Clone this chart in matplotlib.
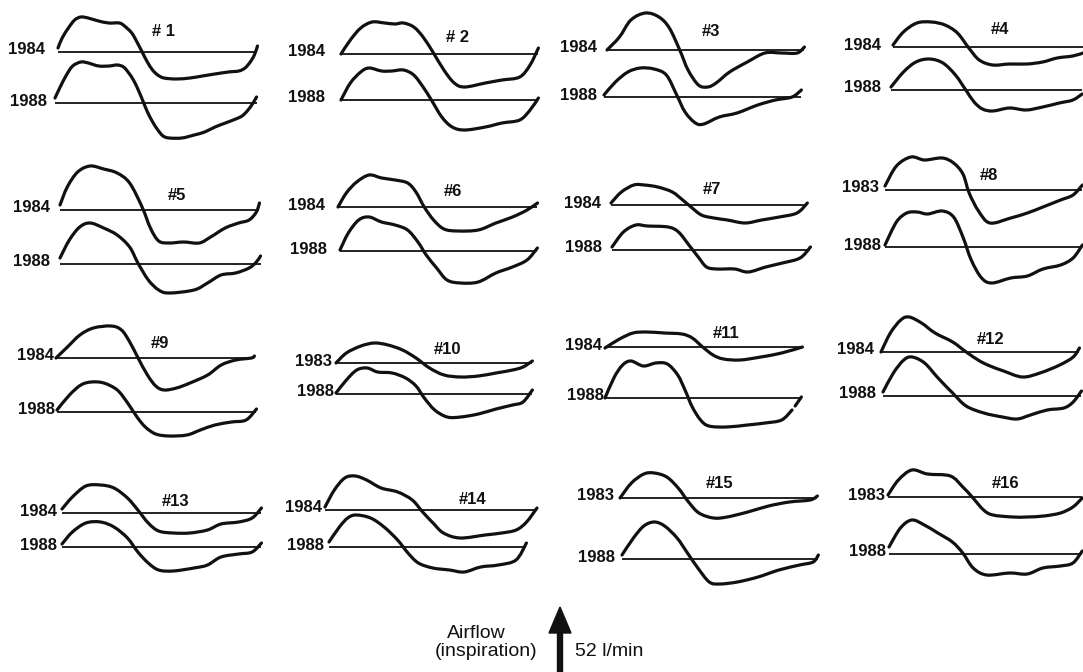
import matplotlib
matplotlib.use("Agg")
import matplotlib.pyplot as plt
from matplotlib.patches import FancyArrow, PathPatch
from matplotlib.path import Path
import numpy as np

W, H = 1083, 672
XSCALE = 1.039   # px per time unit along a breath
INK = "#111111"

# airflow traces
# t = time along the breath (arbitrary units), f = deflection from zero flow (+ = inspiration)
t01_84 = [0, 4, 10, 16, 22, 29, 39, 49, 59, 64, 71, 76, 81, 86, 91, 96, 102, 114, 127, 139, 151, 164, 174, 180, 185, 189, 192]
f01_84 = [4, 14, 24, 32, 35, 34, 31, 29, 29, 26, 19, 10, 0, -10, -18, -23, -26, -27, -26, -24, -22, -20, -19, -16, -10, -3, 6]
t01_88 = [0, 5, 11, 17, 25, 32, 42, 52, 60, 66, 71, 76, 81, 85, 89, 94, 99, 104, 110, 122, 134, 144, 154, 164, 174, 180, 185, 190, 194]
f01_88 = [5, 16, 28, 37, 41, 40, 37, 37, 38, 36, 30, 22, 11, 1, -9, -19, -27, -33, -35, -35, -32, -29, -24, -20, -16, -13, -8, -1, 6]

t02_84 = [0, 9, 19, 30, 42, 52, 60, 70, 79, 89, 99, 109, 119, 139, 155, 172, 182, 190]
f02_84 = [0, 14, 26, 32, 31, 30, 31, 27, 17, 1, -16, -29, -33, -29, -26, -23, -11, 6]
t02_88 = [0, 9, 19, 27, 39, 49, 60, 70, 79, 87, 97, 107, 119, 139, 155, 172, 182, 190]
f02_88 = [0, 17, 28, 32, 29, 29, 30, 25, 13, 0, -17, -27, -30, -27, -23, -20, -10, 2]

t03_84 = [0, 12, 23, 37, 50, 60, 70, 78, 88, 97, 105, 118, 135, 152, 168, 183, 190]
f03_84 = [0, 13, 30, 37, 33, 22, 0, -20, -35, -37, -33, -22, -12, -3, -3, -3, 3]
t03_88 = [0, 11, 23, 35, 48, 60, 70, 78, 88, 96, 111, 128, 148, 165, 181, 190]
f03_88 = [2, 15, 25, 29, 28, 22, 2, -15, -26, -27, -20, -16, -8, -3, 0, 7]

t04_84 = [0, 10, 23, 37, 50, 62, 73, 83, 96, 112, 129, 144, 158, 173, 183]
f04_84 = [2, 15, 24, 25, 22, 14, -1, -13, -18, -17, -17, -15, -11, -9, -6]
t04_88 = [0, 12, 24, 37, 50, 62, 72, 80, 88, 98, 114, 130, 146, 162, 175, 184]
f04_88 = [3, 18, 28, 31, 27, 15, 0, -12, -19, -21, -18, -20, -17, -13, -10, -4]

t05_84 = [0, 7, 17, 29, 42, 55, 67, 79, 87, 95, 105, 119, 134, 145, 159, 172, 182, 189, 192]
f05_84 = [5, 23, 38, 44, 41, 37, 27, 3, -18, -31, -33, -32, -33, -27, -18, -13, -10, -2, 7]
t05_88 = [0, 9, 19, 29, 42, 55, 67, 75, 85, 95, 105, 129, 142, 155, 169, 182, 189, 193]
f05_88 = [6, 24, 37, 41, 36, 29, 17, 1, -16, -26, -29, -26, -19, -11, -9, -4, 2, 8]

t06_84 = [0, 8, 18, 30, 42, 55, 67, 75, 83, 92, 102, 115, 135, 152, 168, 182, 192]
f06_84 = [0, 14, 25, 32, 29, 27, 24, 15, 0, -13, -22, -24, -23, -16, -10, -3, 4]
t06_88 = [0, 8, 18, 28, 40, 53, 65, 75, 83, 93, 103, 116, 133, 150, 166, 180, 190]
f06_88 = [1, 18, 31, 34, 29, 26, 21, 9, -4, -17, -29, -32, -31, -22, -16, -9, 3]

t07_84 = [0, 10, 22, 32, 45, 59, 69, 77, 87, 99, 112, 129, 145, 162, 179, 189]
f07_84 = [2, 13, 20, 20, 18, 13, 5, -2, -10, -13, -15, -18, -15, -12, -8, 2]
t07_88 = [0, 11, 23, 34, 54, 64, 74, 83, 91, 101, 118, 131, 148, 164, 181, 191]
f07_88 = [3, 18, 25, 24, 23, 18, 5, -7, -17, -19, -19, -22, -17, -13, -8, 3]

t08_83 = [0, 11, 25, 38, 55, 66, 75, 81, 90, 101, 121, 137, 152, 169, 181, 190]
f08_83 = [4, 24, 33, 30, 32, 27, 16, -3, -21, -33, -28, -23, -17, -10, -5, 5]
t08_88 = [0, 11, 21, 31, 41, 55, 66, 75, 83, 93, 103, 121, 137, 152, 169, 181, 190]
f08_88 = [2, 25, 34, 35, 33, 36, 30, 10, -13, -31, -36, -31, -29, -22, -18, -11, 2]

t09_84 = [0, 11, 23, 36, 53, 63, 71, 79, 88, 96, 104, 116, 129, 146, 159, 173, 188, 191]
f09_84 = [0, 11, 23, 30, 32, 28, 16, 0, -17, -28, -32, -30, -25, -17, -7, -2, 0, 2]
t09_88 = [0, 12, 23, 33, 45, 58, 68, 77, 85, 95, 108, 125, 138, 152, 168, 182, 192]
f09_88 = [2, 17, 27, 30, 29, 22, 9, -5, -15, -22, -24, -23, -18, -13, -10, -8, 3]

t10_83 = [0, 10, 24, 37, 50, 64, 77, 90, 104, 120, 137, 154, 170, 180, 189]
f10_83 = [0, 10, 17, 20, 18, 13, 5, -5, -12, -14, -13, -10, -7, -4, 2]
t10_88 = [0, 10, 20, 30, 40, 54, 67, 77, 85, 95, 107, 120, 137, 154, 170, 180, 189]
f10_88 = [1, 14, 24, 26, 22, 21, 16, 8, -4, -16, -23, -23, -20, -15, -11, -8, 4]

t11_84 = [0, 14, 27, 40, 57, 74, 84, 94, 104, 114, 130, 150, 170, 190]
f11_84 = [-1, 8, 14, 15, 14, 13, 9, 0, -8, -12, -13, -10, -6, 0]
t11_88 = [0, 9, 17, 25, 37, 49, 60, 70, 77, 84, 92, 100, 117, 137, 154, 170, 180, 181, 183, 189]
f11_88 = [0, 21, 33, 37, 32, 35, 34, 23, 8, -9, -22, -28, -29, -27, -25, -22, -12, np.nan, -8, 1]

t12_84 = [0, 9, 19, 27, 39, 52, 69, 82, 95, 105, 118, 136, 153, 172, 185, 191]
f12_84 = [0, 19, 32, 35, 29, 19, 10, 0, -9, -14, -19, -25, -21, -13, -5, 4]
t12_88 = [0, 10, 20, 28, 40, 53, 67, 80, 97, 115, 129, 142, 158, 174, 183, 191]
f12_88 = [4, 23, 36, 39, 33, 18, 3, -10, -17, -21, -23, -19, -14, -12, -6, 5]

t13_84 = [0, 10, 23, 37, 50, 63, 73, 83, 93, 107, 123, 140, 153, 170, 183, 192]
f13_84 = [4, 16, 27, 28, 25, 15, 3, -10, -18, -20, -20, -17, -11, -9, -5, 5]
t13_88 = [0, 10, 23, 37, 50, 63, 73, 83, 93, 107, 127, 140, 153, 170, 183, 192]
f13_88 = [3, 15, 24, 25, 20, 9, -5, -16, -23, -24, -21, -18, -10, -7, -5, 4]

t14_84 = [0, 9, 19, 29, 40, 54, 70, 84, 94, 104, 114, 130, 154, 170, 184, 194, 204]
f14_84 = [3, 20, 32, 34, 30, 22, 18, 10, -2, -13, -23, -28, -25, -23, -20, -12, 2]
t14_88 = [0, 10, 18, 26, 40, 53, 66, 76, 86, 100, 116, 130, 146, 163, 180, 190]
f14_88 = [5, 20, 29, 32, 29, 20, 7, -6, -16, -21, -23, -25, -20, -18, -13, 4]

t15_83 = [0, 11, 23, 33, 45, 56, 66, 76, 90, 103, 123, 143, 163, 183, 190]
f15_83 = [0, 15, 24, 25, 21, 10, -4, -15, -20, -19, -14, -8, -4, -2, 2]
t15_88 = [0, 11, 21, 31, 41, 53, 63, 73, 84, 94, 111, 131, 151, 171, 184, 189]
f15_88 = [4, 21, 33, 37, 33, 21, 6, -9, -23, -25, -23, -18, -11, -6, -3, 4]

t16_83 = [0, 10, 23, 38, 60, 72, 81, 92, 101, 120, 134, 150, 166, 178, 187]
f16_83 = [2, 17, 27, 23, 21, 10, 0, -13, -18, -20, -20, -19, -16, -10, -1]
t16_88 = [0, 11, 22, 34, 47, 61, 71, 81, 94, 116, 133, 148, 165, 177, 186]
f16_88 = [7, 26, 34, 29, 21, 12, 1, -14, -21, -19, -20, -14, -12, -9, 3]

panel_names = ["# 1", "# 2", "#3", "#4", "#5", "#6", "#7", "#8",
               "#9", "#10", "#11", "#12", "#13", "#14", "#15", "#16"]
first_years = ["1984", "1984", "1984", "1984", "1984", "1984", "1984", "1983",
               "1984", "1983", "1984", "1984", "1984", "1984", "1983", "1983"]
second_year = "1988"

first_traces = [(t01_84, f01_84), (t02_84, f02_84), (t03_84, f03_84), (t04_84, f04_84),
                (t05_84, f05_84), (t06_84, f06_84), (t07_84, f07_84), (t08_83, f08_83),
                (t09_84, f09_84), (t10_83, f10_83), (t11_84, f11_84), (t12_84, f12_84),
                (t13_84, f13_84), (t14_84, f14_84), (t15_83, f15_83), (t16_83, f16_83)]
second_traces = [(t01_88, f01_88), (t02_88, f02_88), (t03_88, f03_88), (t04_88, f04_88),
                 (t05_88, f05_88), (t06_88, f06_88), (t07_88, f07_88), (t08_88, f08_88),
                 (t09_88, f09_88), (t10_88, f10_88), (t11_88, f11_88), (t12_88, f12_88),
                 (t13_88, f13_88), (t14_88, f14_88), (t15_88, f15_88), (t16_88, f16_88)]

# layout in pixels: trace start x, zero line y, right edge of year label (top trace, then bottom)
top_pos = [(58, 52, 45), (341, 54, 325), (607, 50, 597), (893, 47, 881),
           (60, 210, 50), (338, 207, 325), (611, 205, 601), (885, 190, 879),
           (56, 358, 54), (336, 363, 332), (605, 347, 602), (881, 352, 874),
           (62, 513, 57), (325, 510, 322), (620, 498, 614), (888, 497, 885)]
bot_pos = [(55, 103, 47), (341, 100, 325), (604, 97, 597), (891, 90, 881),
           (60, 264, 50), (340, 251, 327), (612, 250, 602), (885, 247, 881),
           (57, 412, 55), (336, 394, 334), (605, 398, 604), (883, 396, 876),
           (62, 547, 57), (329, 547, 324), (622, 559, 615), (889, 554, 886)]
name_pos = [(164, 32), (458, 37), (711, 31), (1000, 29),
            (177, 195), (453, 191), (712, 189), (989, 176),
            (160, 343), (447, 349), (726, 334), (991, 339),
            (176, 502), (473, 499), (720, 484), (1006, 484)]

LABEL_FONT = ["Liberation Sans", "DejaVu Sans"]
TEXT_FONT = ["Liberation Sans", "DejaVu Sans"]

fig = plt.figure(figsize=(W / 100, H / 100), dpi=100)
fig.patch.set_facecolor("white")

# overlay axes in pixel units, only for text and the scale arrow
lay = fig.add_axes([0, 0, 1, 1])
lay.set_xlim(0, W)
lay.set_ylim(H, 0)
lay.axis("off")


def smooth_path(t, f):
    # pen-like curve through the read points (Catmull-Rom drawn as Bezier segments)
    pts = np.column_stack([t, f]).astype(float)
    runs, cur = [], []
    for p in pts:
        if np.isnan(p[1]):
            if cur:
                runs.append(np.array(cur))
            cur = []
        else:
            cur.append(p)
    if cur:
        runs.append(np.array(cur))

    verts, codes = [], []
    for p in runs:
        n = len(p)
        verts.append(p[0])
        codes.append(Path.MOVETO)
        for i in range(n - 1):
            p0, p1 = p[max(i - 1, 0)], p[i]
            p2, p3 = p[i + 1], p[min(i + 2, n - 1)]
            verts += [p1 + (p2 - p0) / 6, p2 - (p3 - p1) / 6, p2]
            codes += [Path.CURVE4] * 3
    return Path(verts, codes)


def draw_trace(x0, yb, t, f):
    span = 240
    ax = fig.add_axes([x0 / W, (H - yb - 60) / H, span / W, 120 / H])
    ax.set_xlim(0, span / XSCALE)
    ax.set_ylim(-60, 60)
    ax.axis("off")
    ax.hlines(0, t[0], t[-1], color=INK, lw=1.3, clip_on=False)
    ax.add_patch(PathPatch(smooth_path(t, f), fill=False, edgecolor=INK, lw=2.3,
                           joinstyle="round", capstyle="round", clip_on=False))


for i in range(16):
    x0, yb, lx = top_pos[i]
    draw_trace(x0, yb, *first_traces[i])
    lay.text(lx, yb - 2, first_years[i], ha="right", va="center", fontsize=12,
             fontweight="bold", family=LABEL_FONT, color=INK)

    x0, yb, lx = bot_pos[i]
    draw_trace(x0, yb, *second_traces[i])
    lay.text(lx, yb - 2, second_year, ha="right", va="center", fontsize=12,
             fontweight="bold", family=LABEL_FONT, color=INK)

    nx, ny = name_pos[i]
    lay.text(nx, ny, panel_names[i], ha="center", va="center", fontsize=12,
             fontweight="bold", family=LABEL_FONT, color=INK)

# scale: arrow = 52 l/min of inspiratory airflow
lay.add_patch(FancyArrow(560, 690, 0, -83, width=5, head_width=22, head_length=26,
                         length_includes_head=True, color=INK, clip_on=False))
lay.text(476, 633, "Airflow", ha="center", va="center", fontsize=14, family=TEXT_FONT, color=INK)
lay.text(486, 651, "(inspiration)", ha="center", va="center", fontsize=14, family=TEXT_FONT, color=INK)
lay.text(575, 652, "52 l/min", ha="left", va="center", fontsize=14, family=TEXT_FONT, color=INK)

fig.savefig("out.png", dpi=100, facecolor="white")
